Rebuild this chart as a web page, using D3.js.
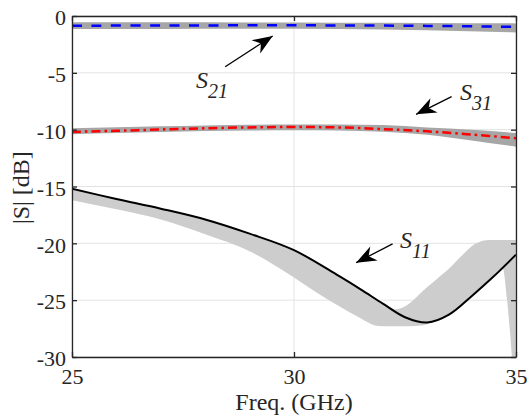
<!DOCTYPE html>
<meta charset="utf-8">
<style type="text/css">
  body { margin: 0; background: #fff; }
  text { font-family: "Liberation Serif", "Times New Roman", serif; fill: #262626; }
  .grid line { stroke: #e3e3e3; stroke-width: 1; }
  .axis path, .axis line { stroke: #262626; stroke-width: 1.3; }
  .band21, .band31 { fill: #a6a6a6; }
  .band11 { fill: #cdcdcd; }
</style>
<svg width="527" height="417"></svg>
<script src="https://d3js.org/d3.v7.min.js"></script>
<script>

// S21 (blue dashed) and its spread
var freq21 = [25, 27, 29, 31, 33, 35];
var s21 = [-0.85, -0.84, -0.82, -0.83, -0.87, -0.95];
var s21Hi = [-0.55, -0.56, -0.58, -0.60, -0.62, -0.65];
var s21Lo = [-1.15, -1.14, -1.13, -1.15, -1.25, -1.45];

// S31 (red dash-dot) and its spread
var freq31 = [25, 26, 27, 28, 29, 30, 31, 32, 33, 34, 35];
var s31 = [-10.2, -10.1, -9.98, -9.88, -9.8, -9.77, -9.8, -9.95, -10.15, -10.43, -10.75];
var s31Hi = [-9.88, -9.78, -9.7, -9.63, -9.57, -9.55, -9.55, -9.6, -9.8, -10.0, -10.3];
var s31Lo = [-10.4, -10.3, -10.2, -10.12, -10.07, -10.05, -10.08, -10.18, -10.45, -10.95, -11.5];

// S11 (black) nominal
var freq11 = [25, 26, 27, 28, 29, 30, 31, 31.5, 32, 32.5, 33, 33.5, 34, 34.5, 35];
var s11 = [-15.2, -16.1, -16.95, -17.9, -19.15, -20.6, -22.85, -24.05, -25.3, -26.5, -26.97, -26.25, -24.65, -22.9, -21.0];

// S11 spread
var freq11Band = [25, 26, 27, 28, 29, 30, 30.5, 31, 31.5, 31.8, 32, 32.3, 32.6, 32.9, 33.2, 33.5, 33.8, 34.1, 34.4, 34.7, 34.8, 34.87, 34.92, 35];
var s11Hi = [-15.2, -16.1, -16.95, -17.9, -19.15, -20.6, -21.7, -22.85, -24.0, -24.7, -25.2, -25.8, -25.3, -24.2, -23.2, -22.2, -21.0, -20.0, -19.7, -19.7, -19.7, -19.7, -19.7, -19.7];
var s11Lo = [-16.2, -17.0, -17.9, -19.2, -20.7, -23.0, -24.3, -25.5, -26.6, -27.2, -27.3, -27.3, -27.3, -27.2, -26.8, -26.2, -25.4, -24.3, -23.2, -22.2, -25.0, -28.0, -30, -30];

var xTicks = [25, 30, 35];
var yTicks = [0, -5, -10, -15, -20, -25, -30];

// annotations (freq, dB)
var annotSub = ["21", "31", "11"];
var annotText = [[27.79, -6.36], [33.74, -7.39], [32.39, -20.4]];
var annotTail = [[28.45, -4.46], [33.55, -7.10], [32.22, -20.05]];
var annotTip = [[29.52, -1.76], [32.75, -8.65], [31.40, -21.7]];

var svg = d3.select("svg"),
    margin = {top: 16, right: 11, bottom: 60, left: 72},
    width = +svg.attr("width") - margin.left - margin.right,
    height = +svg.attr("height") - margin.top - margin.bottom,
    g = svg.append("g").attr("transform", "translate(" + margin.left + "," + margin.top + ")");

var x = d3.scaleLinear().domain([25, 35]).range([0, width]);
var y = d3.scaleLinear().domain([-30, 0]).range([height, 0]);

svg.append("defs").append("clipPath").attr("id", "clip")
  .append("rect").attr("width", width).attr("height", height);

// grid
var grid = g.append("g").attr("class", "grid");
grid.selectAll(".gx").data(xTicks).enter().append("line")
    .attr("x1", function(d) { return x(d); }).attr("x2", function(d) { return x(d); })
    .attr("y1", 0).attr("y2", height);
grid.selectAll(".gy").data(yTicks).enter().append("line")
    .attr("y1", function(d) { return y(d); }).attr("y2", function(d) { return y(d); })
    .attr("x1", 0).attr("x2", width);

var plot = g.append("g").attr("clip-path", "url(#clip)");

function band(fr, hi, lo) {
  return d3.area()
    .x(function(d, i) { return x(fr[i]); })
    .y0(function(d, i) { return y(lo[i]); })
    .y1(function(d, i) { return y(hi[i]); })
    .curve(d3.curveMonotoneX)(fr);
}
function line(fr, v) {
  return d3.line()
    .x(function(d, i) { return x(fr[i]); })
    .y(function(d, i) { return y(v[i]); })
    .curve(d3.curveCatmullRom)(fr);
}

plot.append("path").attr("class", "band11").attr("d", band(freq11Band, s11Hi, s11Lo));
plot.append("path").attr("class", "band31").attr("d", band(freq31, s31Hi, s31Lo));
plot.append("path").attr("class", "band21").attr("d", band(freq21, s21Hi, s21Lo));

plot.append("path").attr("d", line(freq21, s21))
    .attr("fill", "none").attr("stroke", "#0000ff").attr("stroke-width", 2.5)
    .attr("stroke-dasharray", "10,9.5");
plot.append("path").attr("d", line(freq31, s31))
    .attr("fill", "none").attr("stroke", "#ff0000").attr("stroke-width", 2.5)
    .attr("stroke-dasharray", "9,4,2.5,4");
plot.append("path").attr("d", line(freq11, s11))
    .attr("fill", "none").attr("stroke", "#000").attr("stroke-width", 2);

// axes
var fontSize = 22;
var fmt = function(d) { return String(d); };
g.append("g").attr("class", "axis")
    .call(d3.axisLeft(y).tickValues(yTicks).tickFormat(fmt).tickSize(-5).tickSizeOuter(0).tickPadding(6))
    .selectAll("text").attr("font-size", fontSize).attr("dy", "0.4em");
g.append("g").attr("class", "axis")
    .attr("transform", "translate(0," + height + ")")
    .call(d3.axisBottom(x).tickValues(xTicks).tickFormat(fmt).tickSize(-5).tickSizeOuter(0).tickPadding(11))
    .selectAll("text").attr("font-size", fontSize);
g.append("g").attr("class", "axis")
    .call(d3.axisTop(x).tickValues(xTicks).tickSize(-5).tickSizeOuter(0).tickFormat(""));
g.append("g").attr("class", "axis")
    .attr("transform", "translate(" + width + ",0)")
    .call(d3.axisRight(y).tickValues(yTicks).tickSize(-5).tickSizeOuter(0).tickFormat(""));
g.selectAll(".axis text").attr("font-family", "Liberation Serif").attr("fill", "#262626");

// axis labels
g.append("text")
    .attr("x", x(30)).attr("y", height + 53)
    .attr("text-anchor", "middle").attr("font-size", 24)
    .text("Freq. (GHz)");
g.append("text")
    .attr("transform", "translate(" + (29 - margin.left) + "," + y(-15.1) + ") rotate(-90)")
    .attr("text-anchor", "middle").attr("font-size", 24)
    .text("|S| [dB]");

// annotations
annotSub.forEach(function(sub, i) {
  var t = g.append("text")
      .attr("x", x(annotText[i][0])).attr("y", y(annotText[i][1]))
      .attr("font-style", "italic").attr("font-size", 24);
  t.append("tspan").text("S");
  t.append("tspan").attr("font-size", 20).attr("dx", 0).attr("dy", 10).text(sub);

  var x0 = x(annotTail[i][0]), y0 = y(annotTail[i][1]),
      x1 = x(annotTip[i][0]), y1 = y(annotTip[i][1]);
  var ang = Math.atan2(y1 - y0, x1 - x0) * 180 / Math.PI;
  g.append("line")
      .attr("x1", x0).attr("y1", y0).attr("x2", x1).attr("y2", y1)
      .attr("stroke", "#000").attr("stroke-width", 1.3);
  g.append("path")
      .attr("transform", "translate(" + x1 + "," + y1 + ") rotate(" + ang + ")")
      .attr("d", "M0,0L-20,-8L-14,0L-20,8Z")
      .attr("fill", "#000");
});

</script>
